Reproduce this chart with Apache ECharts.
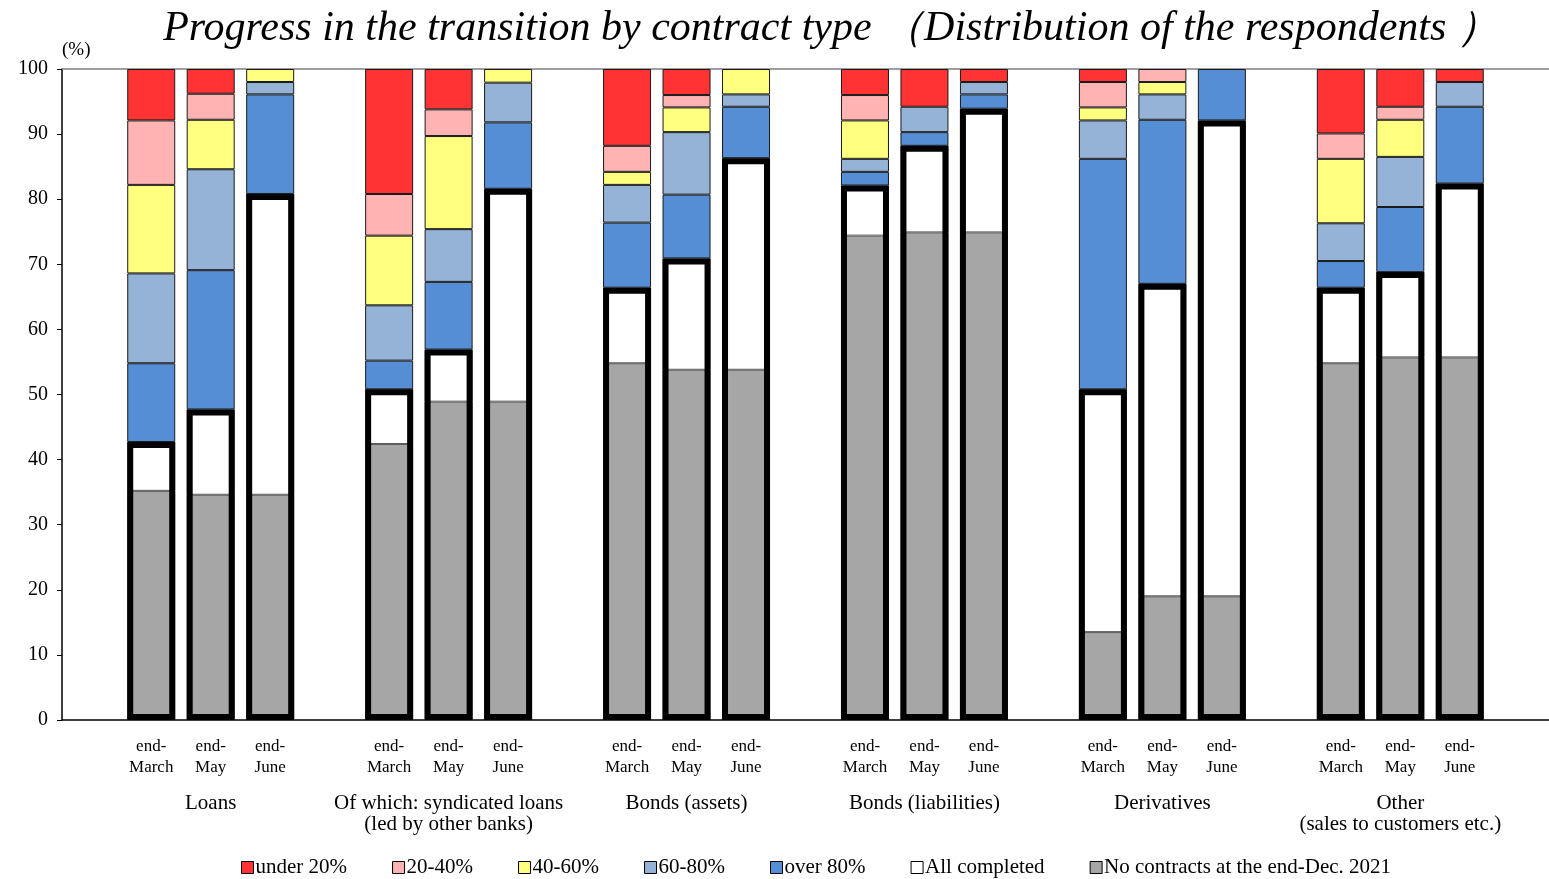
<!DOCTYPE html>
<html>
<head>
<meta charset="utf-8">
<script src="https://cdn.jsdelivr.net/npm/echarts@6/dist/echarts.min.js"></script>
<style>
  html, body { margin: 0; padding: 0; background: #fff; }
  #chart { width: 1549px; height: 879px; }
</style>
</head>
<body>
<div id="chart"></div>
<script>
// Survey periods within each contract type
const months = ['end-\nMarch', 'end-\nMay', 'end-\nJune'];
const groups = [
  'Loans',
  'Of which: syndicated loans\n(led by other banks)',
  'Bonds (assets)',
  'Bonds (liabilities)',
  'Derivatives',
  'Other\n(sales to customers etc.)'
];
const yTicks = [0, 10, 20, 30, 40, 50, 60, 70, 80, 90, 100];

// Share of respondents (%), ordered group by group: March, May, June
const noContracts  = [35.2, 34.6, 34.6, 42.4, 48.9, 48.9, 54.8, 53.8, 53.8, 74.4, 74.9, 74.9, 13.5, 19.0, 19.0, 54.8, 55.7, 55.7];
const allCompleted = [7.5, 13.1, 46.2, 8.4, 8.0, 32.7, 11.6, 17.1, 32.5, 7.7, 13.3, 19.0, 37.3, 48.0, 73.1, 11.6, 13.1, 26.7];
const over80       = [12.1, 21.4, 15.3, 4.4, 10.4, 10.2, 10.0, 9.8, 7.9, 2.1, 2.1, 2.2, 35.4, 25.2, 7.9, 4.1, 10.0, 11.8];
const p60to80      = [13.8, 15.5, 1.9, 8.5, 8.1, 6.1, 5.8, 9.6, 1.9, 2.0, 3.9, 1.9, 5.9, 3.9, 0, 5.8, 7.7, 3.8];
const p40to60      = [13.6, 7.6, 2.0, 10.7, 14.3, 2.1, 2.0, 3.8, 3.9, 5.9, 0, 0, 2.0, 1.9, 0, 9.9, 5.7, 0];
const p20to40      = [9.9, 4.0, 0, 6.4, 4.1, 0, 4.0, 1.9, 0, 3.9, 0, 0, 3.9, 2.0, 0, 3.9, 2.0, 0];
const under20      = [7.9, 3.8, 0, 19.2, 6.2, 0, 11.8, 4.0, 0, 4.0, 5.8, 2.0, 2.0, 0, 0, 9.9, 5.8, 2.0];

const FONT = '"Liberation Serif", "Times New Roman", serif';

// Category slots: a blank slot, then each group's three periods followed by a blank spacer
const slotLabels = [''];
const groupSlotLabels = [''];
groups.forEach(g => {
  months.forEach((m, i) => {
    slotLabels.push(m);
    groupSlotLabels.push(i === 1 ? g : '');
  });
  slotLabels.push('');
  groupSlotLabels.push('');
});

function toSlots(values) {
  const out = ['-'];
  for (let g = 0; g < groups.length; g++) {
    for (let m = 0; m < months.length; m++) {
      const v = values[g * months.length + m];
      out.push(v === 0 ? '-' : v);
    }
    out.push('-');
  }
  return out;
}

const completedTotal = noContracts.map((v, i) => +(v + allCompleted[i]).toFixed(1));

const BAR_W = 48;
function seg(name, values, color, border) {
  return {
    name: name,
    type: 'bar',
    stack: 'share',
    barWidth: BAR_W,
    data: toSlots(values),
    itemStyle: { color: color, borderColor: border, borderWidth: 1 },
    emphasis: { disabled: true },
    z: 2
  };
}

const series = [
  seg('No contracts at the end-Dec. 2021', noContracts, '#A6A6A6', '#595959'),
  seg('All completed', allCompleted, '#FFFFFF', '#595959'),
  seg('over 80%', over80, '#558ED5', '#1a1a1a'),
  seg('60-80%', p60to80, '#95B3D7', '#1a1a1a'),
  seg('40-60%', p40to60, '#FFFF7F', '#1a1a1a'),
  seg('20-40%', p20to40, '#FFB3B3', '#1a1a1a'),
  seg('under 20%', under20, '#FF3333', '#1a1a1a'),
  {
    // heavy frame around the "completed or not applicable" portion
    name: 'frame',
    type: 'bar',
    stack: 'frame',
    barWidth: BAR_W,
    barGap: '-100%',
    data: toSlots(completedTotal),
    itemStyle: { color: 'rgba(0,0,0,0)', borderColor: '#000', borderWidth: 6 },
    emphasis: { disabled: true },
    silent: true,
    z: 3
  }
];

const chart = echarts.init(document.getElementById('chart'), null, { renderer: 'canvas' });
chart.setOption({
  animation: false,
  backgroundColor: '#fff',
  textStyle: { fontFamily: FONT, color: '#000' },
  title: {
    text: 'Progress in the transition by contract type （Distribution of the respondents ）',
    left: 826,
    textAlign: 'center',
    top: 3,
    textStyle: { fontFamily: FONT, fontStyle: 'italic', fontWeight: 'normal', fontSize: 42, color: '#000' }
  },
  legend: {
    bottom: -4,
    left: 236,
    itemWidth: 12,
    itemHeight: 12,
    itemGap: 45,
    icon: 'rect',
    data: ['under 20%', '20-40%', '40-60%', '60-80%', 'over 80%', 'All completed', 'No contracts at the end-Dec. 2021'],
    itemStyle: { borderColor: '#000', borderWidth: 1 },
    textStyle: { fontFamily: FONT, fontSize: 21, color: '#000', padding: [0, 0, 0, -3] },
    selectedMode: false
  },
  grid: { left: 62, right: 0, top: 69, bottom: 159, containLabel: false },
  xAxis: [
    {
      type: 'category',
      data: slotLabels,
      axisLine: { show: true, lineStyle: { color: '#000', width: 1.5 } },
      axisTick: { show: false },
      axisLabel: { interval: 0, fontFamily: FONT, fontSize: 17, lineHeight: 21, color: '#000', margin: 16 },
      splitLine: { show: false }
    },
    {
      type: 'category',
      data: groupSlotLabels,
      position: 'bottom',
      axisLine: { show: false },
      axisTick: { show: false },
      axisLabel: { interval: 0, fontFamily: FONT, fontSize: 21, lineHeight: 21, color: '#000', margin: 73 },
      splitLine: { show: false }
    },
    {
      type: 'category',
      data: slotLabels,
      position: 'top',
      axisLine: { show: true, lineStyle: { color: '#808080', width: 1.5 } },
      axisTick: { show: false },
      axisLabel: { show: false },
      splitLine: { show: false }
    }
  ],
  yAxis: {
    type: 'value',
    min: yTicks[0],
    max: yTicks[yTicks.length - 1],
    interval: 10,
    name: '(%)',
    nameLocation: 'end',
    nameGap: 9,
    nameTextStyle: { fontFamily: FONT, fontSize: 19, color: '#000', align: 'left', padding: [0, 0, 0, 0] },
    axisLine: { show: true, lineStyle: { color: '#000', width: 1.5 } },
    axisTick: { show: true, length: 5, lineStyle: { color: '#000' } },
    axisLabel: { fontFamily: FONT, fontSize: 20, color: '#000', margin: 14 },
    splitLine: { show: false }
  },
  series: series
});
</script>
</body>
</html>
